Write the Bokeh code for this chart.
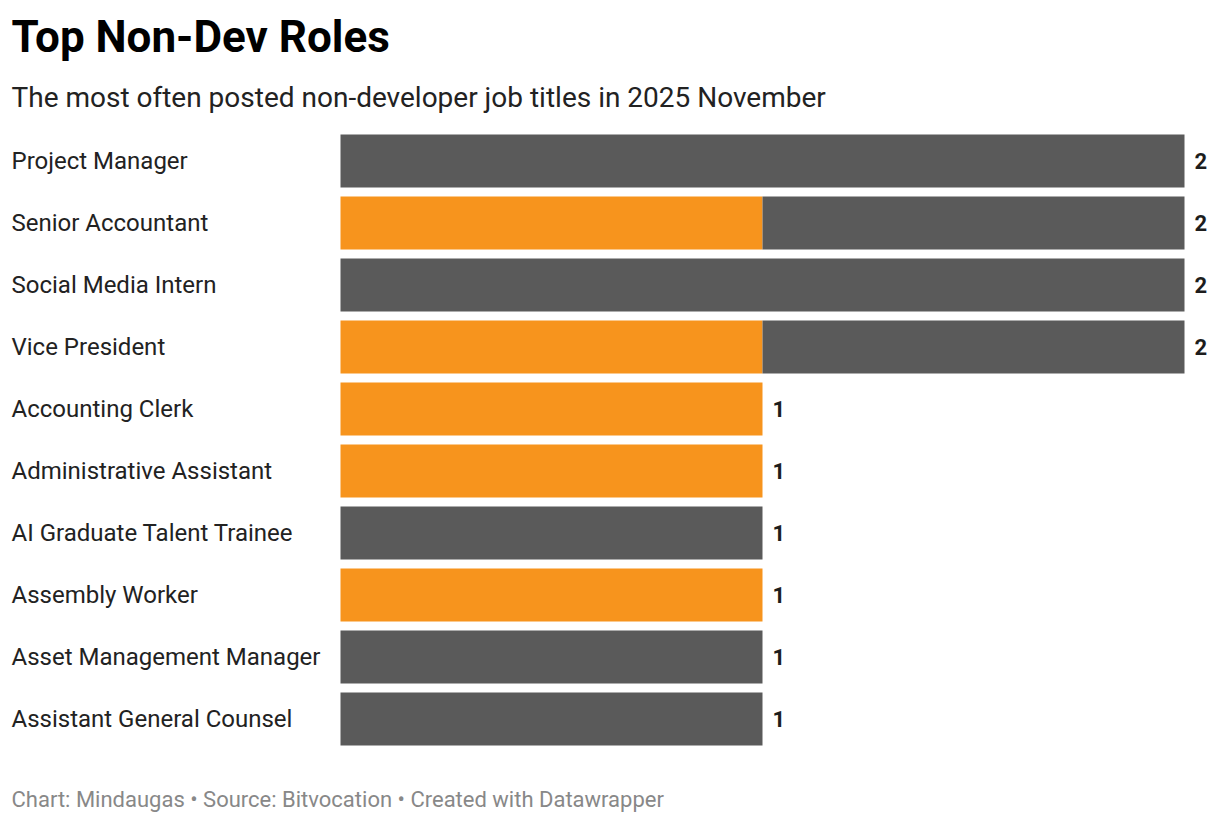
from bokeh.plotting import figure
from bokeh.models import ColumnDataSource, Range1d
from bokeh.core.properties import value
from bokeh.embed import file_html
from bokeh.resources import INLINE

roles = ["Project Manager", "Senior Accountant", "Social Media Intern", "Vice President",
         "Accounting Clerk", "Administrative Assistant", "AI Graduate Talent Trainee",
         "Assembly Worker", "Asset Management Manager", "Assistant General Counsel"]
orange_vals = [0, 1, 0, 1, 1, 1, 0, 1, 0, 0]
gray_vals = [2, 1, 2, 1, 0, 0, 1, 0, 1, 1]
totals = [o + g for o, g in zip(orange_vals, gray_vals)]

title = "Top Non-Dev Roles"
subtitle = "The most often posted non-developer job titles in 2025 November"
footer = "Chart: Mindaugas \u2022 Source: Bitvocation \u2022 Created with Datawrapper"

W, H = 1212, 814
# pixel geometry (figure coords)
x0_px, unit_px = 340.0, 422.0
row0_px, row_px = 160.5, 62.0

xs = -x0_px / unit_px
xe = (W - x0_px) / unit_px
yt = (0 - row0_px) / row_px
yb = (H - row0_px) / row_px


def py(px):
    return (px - row0_px) / row_px


def pxx(px):
    return (px - x0_px) / unit_px


p = figure(width=W, height=H, output_backend="svg", toolbar_location=None,
           x_range=Range1d(xs, xe), y_range=Range1d(yb, yt),
           min_border=0, min_border_left=0, min_border_right=0,
           min_border_top=0, min_border_bottom=0)
p.axis.visible = False
p.grid.visible = False
p.outline_line_color = None
p.background_fill_color = "white"
p.border_fill_color = "white"

src = ColumnDataSource(dict(idx=list(range(len(roles))), role=roles,
                            orange=orange_vals, gray=gray_vals, total=totals,
                            lab=[str(t) for t in totals],
                            lx=[pxx(11)] * len(roles)))

p.hbar_stack(["orange", "gray"], y="idx", height=53 / 62, color=["#f7941d", "#5a5a5a"],
             line_color=None, source=src)

p.text(x="lx", y="idx", text="role", source=src, text_font=value("Roboto"),
       text_font_size="24px", text_color="#222222", text_baseline="middle", text_align="left")
p.text(x="total", y="idx", text="lab", source=src, x_offset=10, text_font=value("Roboto"),
       text_font_style="bold", text_font_size="22px", text_color="#1d1d1d",
       text_baseline="middle", text_align="left")

p.text(x=[pxx(11)], y=[py(36)], text=[title], text_font=value("Roboto"), text_font_style="bold",
       text_font_size="44px", text_color="#000000", text_baseline="middle")
p.text(x=[pxx(11)], y=[py(97)], text=[subtitle], text_font=value("Roboto"),
       text_font_size="28px", text_color="#222222", text_baseline="middle")
p.text(x=[pxx(11)], y=[py(799)], text=[footer], text_font=value("Roboto"),
       text_font_size="22px", text_color="#888888", text_baseline="middle")

open("out.html", "w").write(file_html(p, INLINE))
